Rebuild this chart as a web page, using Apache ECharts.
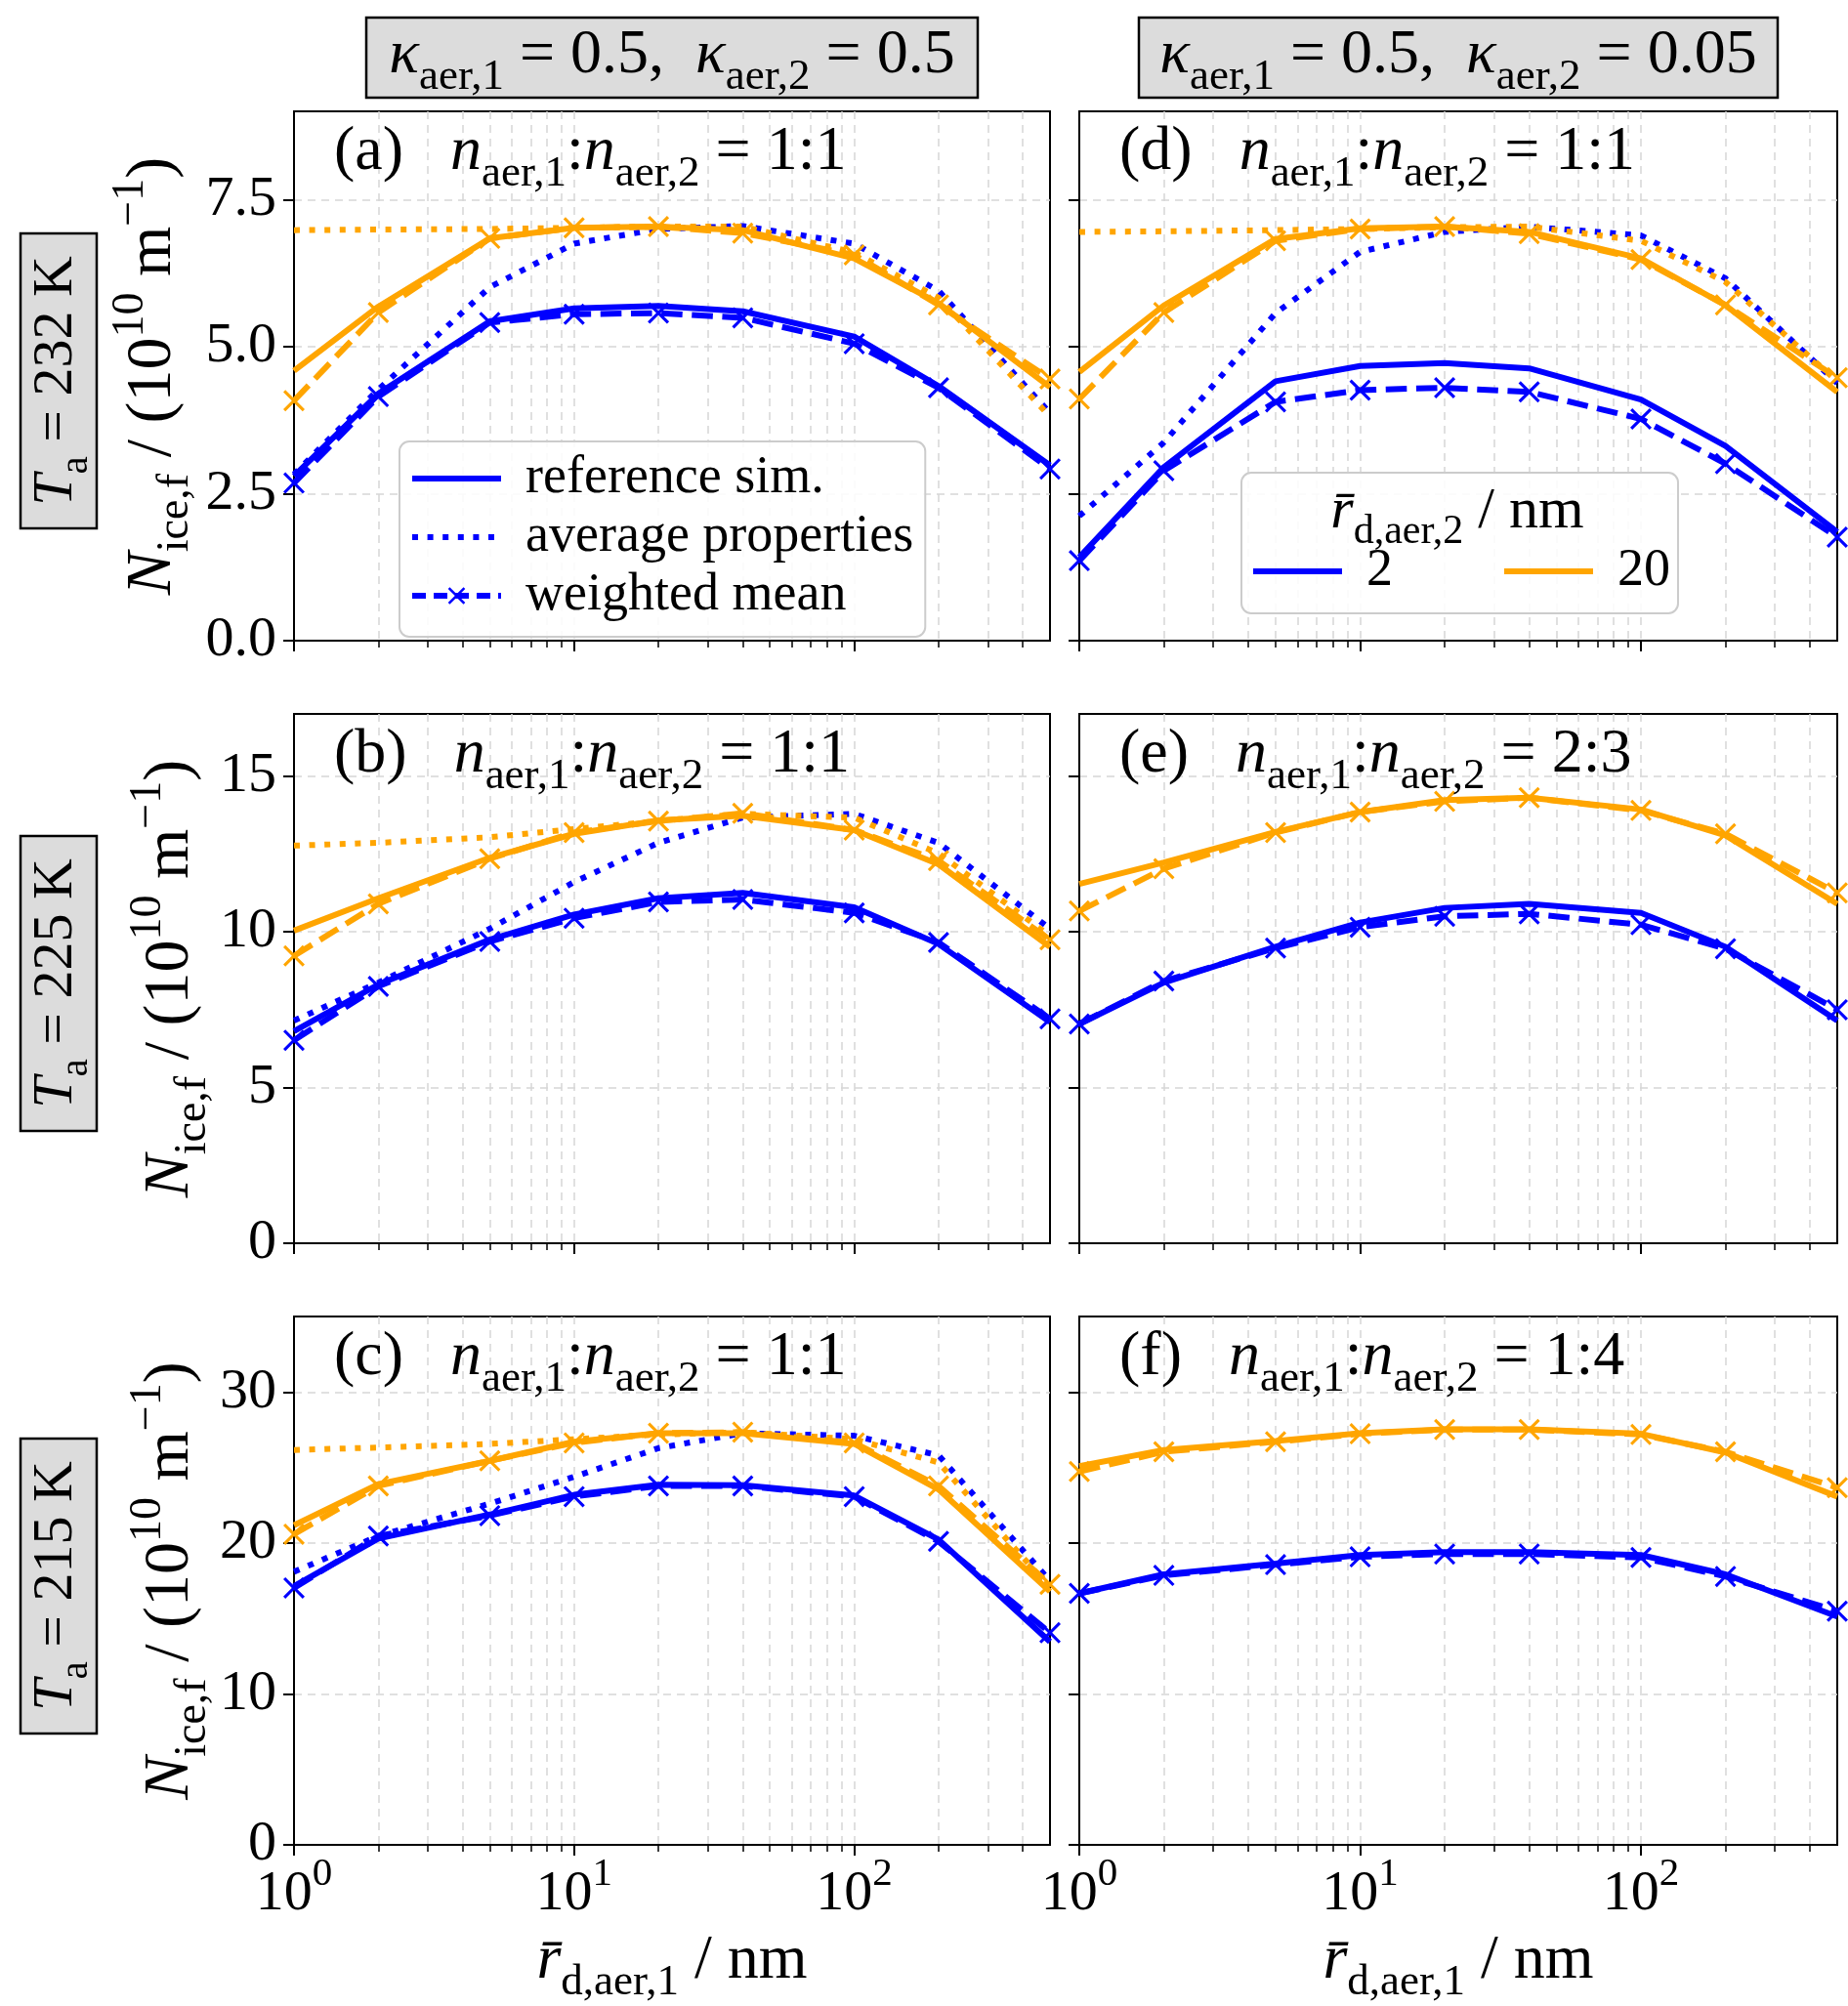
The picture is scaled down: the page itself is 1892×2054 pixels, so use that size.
<!DOCTYPE html>
<html><head><meta charset="utf-8">
<script src="https://cdn.jsdelivr.net/npm/echarts@6.0.0/dist/echarts.min.js"></script>
<style>html,body{margin:0;padding:0;background:#fff}#c{width:1892px;height:2054px}</style>
</head><body><div id="c"></div>
<script>
// ---------------- data ----------------
const rAer1 = [1, 2, 5, 10, 20, 40, 100, 200, 500];
const xMajorTicks = [1, 10, 100];
const xMinorTicks = [2, 3, 4, 5, 6, 7, 8, 9, 20, 30, 40, 50, 60, 70, 80, 90, 200, 300, 400];
const yTicksRow1 = [0, 2.5, 5, 7.5];
const yTicksRow2 = [0, 5, 10, 15];
const yTicksRow3 = [0, 10, 20, 30];
const yMaxRows = [9, 17, 35];
const yIntervalRows = [2.5, 5, 10];
const rowTemps = ['232', '225', '215'];
const colKappa2 = ['0.5', '0.05'];
const panelLetters = ['a', 'b', 'c', 'd', 'e', 'f'];
const panelRatios = ['1:1', '1:1', '1:1', '1:1', '2:3', '1:4'];

// panel (a)
const a_ref_2  = [2.80, 4.20, 5.43, 5.65, 5.69, 5.60, 5.17, 4.33, 2.98];
const a_avg_2  = [2.83, 4.27, 6.01, 6.75, 7.00, 7.05, 6.75, 5.95, 3.87];
const a_wm_2   = [2.68, 4.15, 5.41, 5.55, 5.57, 5.49, 5.05, 4.30, 2.92];
const a_ref_20 = [4.59, 5.68, 6.84, 7.02, 7.04, 6.98, 6.50, 5.74, 4.31];
const a_avg_20 = [6.98, 6.99, 7.00, 7.02, 7.04, 7.04, 6.60, 5.83, 3.81];
const a_wm_20  = [4.08, 5.58, 6.84, 7.02, 7.04, 6.93, 6.56, 5.71, 4.45];
// panel (b)
const b_ref_2  = [6.81, 8.31, 9.75, 10.56, 11.08, 11.25, 10.79, 9.61, 7.10];
const b_avg_2  = [7.15, 8.37, 10.10, 11.60, 12.86, 13.67, 13.79, 12.86, 10.10];
const b_wm_2   = [6.52, 8.25, 9.69, 10.44, 10.96, 11.04, 10.61, 9.66, 7.21];
const b_ref_20 = [10.04, 11.08, 12.38, 13.15, 13.58, 13.73, 13.27, 12.17, 9.52];
const b_avg_20 = [12.77, 12.86, 13.04, 13.30, 13.56, 13.79, 13.67, 12.52, 9.87];
const b_wm_20  = [9.23, 10.90, 12.35, 13.19, 13.56, 13.81, 13.27, 12.29, 9.75];
// panel (c)
const c_ref_2  = [17.14, 20.29, 21.88, 23.19, 23.85, 23.83, 23.14, 20.22, 13.46];
const c_avg_2  = [18.09, 20.46, 22.60, 24.38, 26.28, 27.27, 27.10, 25.80, 17.49];
const c_wm_2   = [17.02, 20.46, 21.81, 23.07, 23.78, 23.78, 23.07, 20.10, 14.05];
const c_ref_20 = [21.17, 23.90, 25.44, 26.70, 27.27, 27.27, 26.56, 23.55, 16.78];
const c_avg_20 = [26.16, 26.32, 26.56, 26.87, 27.18, 27.34, 26.87, 25.33, 17.02];
const c_wm_20  = [20.58, 23.78, 25.44, 26.63, 27.27, 27.34, 26.63, 23.78, 17.26];
// panel (d)
const d_ref_2  = [1.42, 2.95, 4.41, 4.67, 4.72, 4.63, 4.10, 3.31, 1.85];
const d_avg_2  = [2.12, 3.37, 5.57, 6.61, 6.95, 7.04, 6.89, 6.16, 4.38];
const d_wm_2   = [1.36, 2.89, 4.06, 4.26, 4.30, 4.23, 3.77, 3.01, 1.76];
const d_ref_20 = [4.57, 5.70, 6.83, 7.01, 7.04, 6.95, 6.50, 5.70, 4.23];
const d_avg_20 = [6.95, 6.96, 6.98, 7.00, 7.03, 7.04, 6.80, 6.10, 4.41];
const d_wm_20  = [4.11, 5.58, 6.80, 7.00, 7.04, 6.92, 6.48, 5.71, 4.47];
// panel (e)
const e_ref_2  = [7.04, 8.37, 9.52, 10.30, 10.77, 10.90, 10.61, 9.52, 7.15];
const e_wm_2   = [7.04, 8.42, 9.48, 10.15, 10.50, 10.58, 10.23, 9.46, 7.50];
const e_ref_20 = [11.54, 12.23, 13.21, 13.85, 14.23, 14.31, 13.93, 13.10, 10.90];
const e_wm_20  = [10.67, 12.03, 13.19, 13.85, 14.19, 14.31, 13.90, 13.15, 11.25];
// panel (f)
const f_ref_2  = [16.66, 17.92, 18.63, 19.20, 19.39, 19.39, 19.20, 17.92, 15.12];
const f_wm_2   = [16.66, 17.85, 18.56, 19.08, 19.27, 19.27, 19.04, 17.78, 15.48];
const f_ref_20 = [25.09, 26.16, 26.75, 27.27, 27.53, 27.53, 27.23, 25.99, 23.07];
const f_wm_20  = [24.73, 26.04, 26.70, 27.23, 27.51, 27.51, 27.18, 26.04, 23.66];

// ---------------- layout / style ----------------
const FONT = 'Liberation Serif';
const BLUE = '#0000ff', ORANGE = '#ffa500';
const colLeft = [301, 1105], colWidth = [774, 776];
const rowTop = [114, 731, 1348], rowH = 542;
const yNameGap = [98, 80, 80];
const LW = 6;
const DOT = [LW, LW * 1.6], DASH = [LW * 3.6, LW * 1.6];
const X_PATH = 'path://M1,0L5,4L9,0L10,1L6,5L10,9L9,10L5,6L1,10L0,9L4,5L0,1Z';
const gridLineStyle = {color: '#d6d6d6', type: [8, 6], width: 1.5};
const EN = '\u2002';

function rich(s) {
  const L = Math.round(s * 1.4);
  return {
    r:   {fontFamily: FONT, fontSize: s, lineHeight: L, color: '#000'},
    i:   {fontFamily: FONT, fontStyle: 'italic', fontSize: s, lineHeight: L, color: '#000'},
    sub: {fontFamily: FONT, fontSize: Math.round(s * 0.7), lineHeight: Math.round(s * 0.85), verticalAlign: 'bottom', color: '#000'},
    sup: {fontFamily: FONT, fontSize: Math.round(s * 0.7), lineHeight: Math.round(s * 0.7), verticalAlign: 'top', color: '#000'}
  };
}

const panels = [
  {row: 0, col: 0, ref2: a_ref_2, avg2: a_avg_2, wm2: a_wm_2, ref20: a_ref_20, avg20: a_avg_20, wm20: a_wm_20},
  {row: 1, col: 0, ref2: b_ref_2, avg2: b_avg_2, wm2: b_wm_2, ref20: b_ref_20, avg20: b_avg_20, wm20: b_wm_20},
  {row: 2, col: 0, ref2: c_ref_2, avg2: c_avg_2, wm2: c_wm_2, ref20: c_ref_20, avg20: c_avg_20, wm20: c_wm_20},
  {row: 0, col: 1, ref2: d_ref_2, avg2: d_avg_2, wm2: d_wm_2, ref20: d_ref_20, avg20: d_avg_20, wm20: d_wm_20},
  {row: 1, col: 1, ref2: e_ref_2, avg2: null, wm2: e_wm_2, ref20: e_ref_20, avg20: null, wm20: e_wm_20},
  {row: 2, col: 1, ref2: f_ref_2, avg2: null, wm2: f_wm_2, ref20: f_ref_20, avg20: null, wm20: f_wm_20}
];
const yTicksByRow = [yTicksRow1, yTicksRow2, yTicksRow3];

const grid = [], xAxis = [], yAxis = [], series = [], graphic = [];

panels.forEach((p, gi) => {
  grid.push({left: colLeft[p.col], top: rowTop[p.row], width: colWidth[p.col], height: rowH,
    show: true, borderColor: '#000', borderWidth: 2, backgroundColor: 'transparent'});
  const bottomRow = p.row === 2;
  xAxis.push({
    type: 'log', logBase: 10, gridIndex: gi, min: 1, max: 500, position: 'bottom',
    axisLine: {show: true, lineStyle: {color: '#000', width: 2}},
    axisTick: {show: true, customValues: xMajorTicks, length: 11, lineStyle: {color: '#000', width: 2}},
    axisLabel: {show: bottomRow, customValues: xMajorTicks, margin: 10,
      formatter: v => '{r|10}{sup|' + Math.round(Math.log10(v)) + '}', rich: rich(58)},
    splitLine: {show: true, lineStyle: gridLineStyle},
    name: bottomRow ? '{i|r\u0304}{sub|d,aer,1}{r| / nm}' : '',
    nameLocation: 'middle', nameGap: 74, nameTextStyle: {rich: rich(64)}
  });
  xAxis.push({
    type: 'log', logBase: 10, gridIndex: gi, min: 1, max: 500, position: 'bottom',
    axisLine: {show: false},
    axisTick: {show: true, customValues: xMinorTicks, length: 7, lineStyle: {color: '#000', width: 1.5}},
    axisLabel: {show: false},
    splitLine: {show: true, lineStyle: gridLineStyle}
  });
  const yt = yTicksByRow[p.row];
  yAxis.push({
    type: 'value', gridIndex: gi, min: 0, max: yMaxRows[p.row], interval: yIntervalRows[p.row],
    axisLine: {show: true, lineStyle: {color: '#000', width: 2}},
    axisTick: {show: true, customValues: yt, length: 11, lineStyle: {color: '#000', width: 2}},
    axisLabel: {show: p.col === 0, customValues: yt, margin: 18, color: '#000', fontFamily: FONT, fontSize: 58,
      formatter: v => p.row === 0 ? v.toFixed(1) : String(v)},
    splitLine: {show: true, lineStyle: gridLineStyle},
    name: p.col === 0 ? '{i|N}{sub|ice,f}{r| / (10}{sup|10}{r| m}{sup|\u22121}{r|)}' : '',
    nameLocation: 'middle', nameRotate: 90, nameGap: yNameGap[p.row],
    nameTextStyle: {rich: rich(66)}
  });

  function add(name, values, color, kind) {
    if (!values) return;
    const dash = kind === 'avg' ? DOT : (kind === 'wm' ? DASH : 'solid');
    series.push({
      type: 'line', name: name, xAxisIndex: gi * 2, yAxisIndex: gi,
      data: rAer1.map((x, i) => [x, values[i]]),
      color: color,
      lineStyle: {color: color, width: LW, type: dash, cap: 'butt'},
      itemStyle: {color: color},
      symbol: kind === 'wm' ? X_PATH : 'none', symbolSize: 22, showSymbol: kind === 'wm', showAllSymbol: true,
      clip: true, silent: true, animation: false
    });
  }
  add('reference sim.', p.ref2, BLUE, 'ref');
  add('average properties', p.avg2, BLUE, 'avg');
  add('weighted mean', p.wm2, BLUE, 'wm');
  add('reference sim.', p.ref20, ORANGE, 'ref');
  add('average properties', p.avg20, ORANGE, 'avg');
  add('weighted mean', p.wm20, ORANGE, 'wm');

  // panel label
  graphic.push({
    type: 'text', x: colLeft[p.col] + 41, y: rowTop[p.row] + 42, z: 100,
    style: {
      text: '{r|(' + panelLetters[gi] + ')' + EN + ' }{i|n}{sub|aer,1}{r|:}{i|n}{sub|aer,2}{r| = ' + panelRatios[gi] + '}',
      align: 'left', verticalAlign: 'middle', rich: rich(64)
    }
  });
});

// legend-only series for r_d,aer,2
series.push({type: 'line', name: '2', xAxisIndex: 6, yAxisIndex: 3, data: [], color: BLUE,
  lineStyle: {color: BLUE, width: LW}, symbol: 'none', silent: true});
series.push({type: 'line', name: '20', xAxisIndex: 6, yAxisIndex: 3, data: [], color: ORANGE,
  lineStyle: {color: ORANGE, width: LW}, symbol: 'none', silent: true});

// column titles
const colCenters = [688, 1493];
const colBoxW = [626, 654];
colCenters.forEach((cx, c) => {
  graphic.push({type: 'rect', shape: {x: cx - colBoxW[c] / 2, y: 18, width: colBoxW[c], height: 82},
    style: {fill: '#dcdcdc', stroke: '#000', lineWidth: 2.5}, z: 100});
  graphic.push({type: 'text', x: cx, y: 57, z: 101, style: {
    text: '{i|\u03ba}{sub|aer,1}{r| = 0.5,  }{i|\u03ba}{sub|aer,2}{r| = ' + colKappa2[c] + '}',
    align: 'center', verticalAlign: 'middle', rich: rich(64)}});
});
// row labels
rowTemps.forEach((t, r) => {
  const cy = rowTop[r] + rowH / 2 + 5;
  graphic.push({type: 'rect', shape: {x: 21, y: cy - 151, width: 78, height: 302},
    style: {fill: '#dcdcdc', stroke: '#000', lineWidth: 2.5}, z: 100});
  graphic.push({type: 'text', x: 58, y: cy, rotation: Math.PI / 2, z: 101, style: {
    text: '{i|T}{sub|a}{r| = ' + t + ' K}', align: 'center', verticalAlign: 'middle', rich: rich(58)}});
});
// legend title (panel d)
graphic.push({type: 'text', x: 1492, y: 524, z: 120, style: {
  text: '{i|r\u0304}{sub|d,aer,2}{r| / nm}', align: 'center', verticalAlign: 'middle', rich: rich(60)}});

const legendBase = {
  backgroundColor: 'rgba(255,255,255,0.85)', borderColor: '#cccccc', borderWidth: 2, borderRadius: 10,
  itemWidth: 91, itemHeight: 22, selectedMode: false, z: 110,
  textStyle: {fontFamily: FONT, fontSize: 54, color: '#000', lineHeight: 56, padding: [0, 0, 0, 20]}
};
const noSymbol = {color: 'rgba(0,0,0,0)', borderWidth: 0};

const option = {
  animation: false,
  backgroundColor: '#ffffff',
  grid, xAxis, yAxis, series, graphic,
  legend: [
    Object.assign({}, legendBase, {
      data: [
        {name: 'reference sim.', itemStyle: noSymbol, lineStyle: {color: BLUE, width: LW, type: 'solid'}},
        {name: 'average properties', itemStyle: noSymbol, lineStyle: {color: BLUE, width: LW, type: DOT}},
        {name: 'weighted mean', lineStyle: {color: BLUE, width: LW, type: [14, 8]}}
      ],
      orient: 'vertical', left: 409, top: 452, itemGap: 4, padding: [10, 12, 14, 10]}),
    Object.assign({}, legendBase, {
      data: [
        {name: '2', itemStyle: noSymbol, lineStyle: {color: BLUE, width: LW, type: 'solid'}},
        {name: '20', itemStyle: noSymbol, lineStyle: {color: ORANGE, width: LW, type: 'solid'}}
      ],
      orient: 'horizontal', left: 1271, top: 484, itemGap: 111, padding: [73, 8, 15, 9]})
  ]
};
const chart = echarts.init(document.getElementById('c'), null, {renderer: 'canvas'});
chart.setOption(option);
</script></body></html>
